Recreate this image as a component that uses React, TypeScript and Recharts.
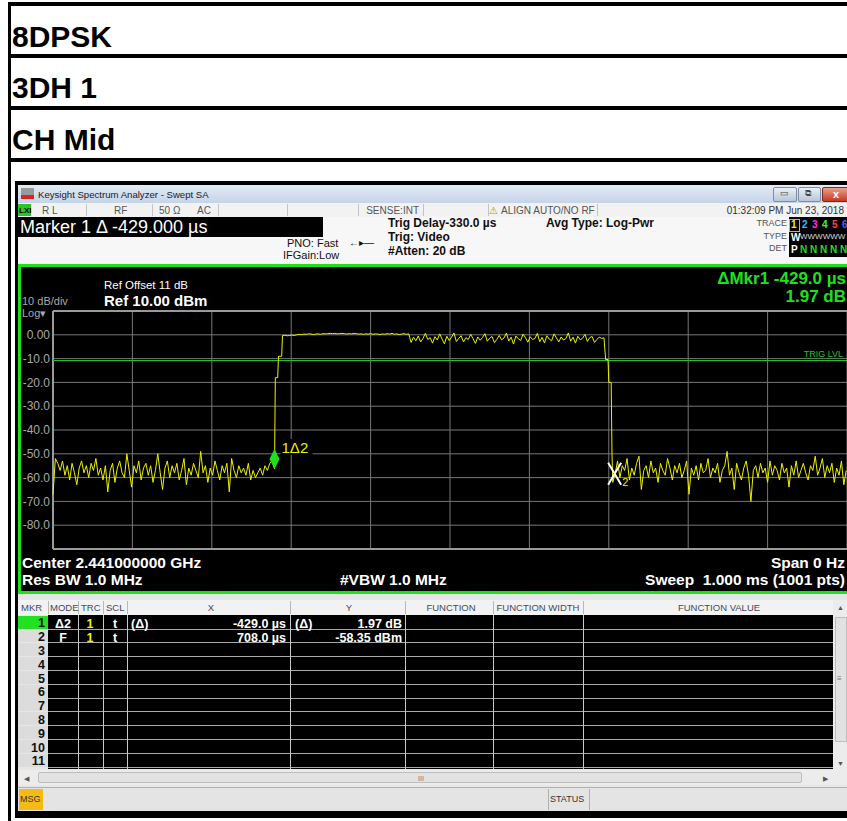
import { LineChart, Line, XAxis, YAxis, CartesianGrid, ReferenceLine, ReferenceDot } from 'recharts'

const SWEEP_STEP = 3 // µs between the trace points picked off the screen

// noise floor before the burst, t = 0..279 µs (last one sits under marker 1)
const noiseBefore = [
  -67, -52, -54, -57, -53, -59, -55, -61, -54, -58,
  -63, -56, -53, -58, -55, -60, -54, -57, -52, -59,
  -56, -61, -55, -66, -57, -54, -62, -56, -53, -58,
  -60, -50, -57, -64, -55, -58, -53, -61, -56, -54,
  -59, -55, -62, -57, -50, -58, -65, -56, -53, -60,
  -55, -58, -54, -61, -57, -52, -63, -56, -59, -54,
  -57, -60, -49, -58, -55, -62, -56, -59, -53, -57,
  -61, -55, -58, -54, -66, -52, -57, -60, -55, -58,
  -56, -59, -54, -61, -57, -60, -58, -56, -59, -55,
  -57, -54, -53, -56.4,
]

// rising edge steps [t, dBm]
const riseEdge = [[280, -18], [283, -18], [284, -9], [288, -9]]

// smooth first part of the burst, t = 289..448 µs
const burstFlat = [
  -0.3, -0.2, -0.4, -0.3, -0.1, -0.3, 0.0, 0.2, 0.1, 0.3,
  0.2, 0.4, 0.3, 0.1, 0.3, 0.4, 0.2, 0.5, 0.4, 0.5,
  0.6, 0.5, 0.6, 0.4, 0.5, 0.6, 0.5, 0.3, 0.5, 0.4,
  0.6, 0.5, 0.3, 0.4, 0.2, 0.4, 0.3, 0.5, 0.2, 0.4,
  0.3, 0.1, 0.4, 0.2, 0.5, 0.3, 0.6, 0.2, 0.4, 0.1,
  0.3, 0.5, 0.2, 0.4,
]

// rippled second part of the burst, t = 451..694 µs
const burstRipple = [
  -3.2, -1.0, -2.5, -0.5, -3.0, -1.5, 0.6, -2.0, -1.2, -3.5,
  -0.8, -2.2, 0.4, -1.8, -3.8, -0.6, -2.4, -1.0, 0.8, -2.8,
  -1.5, -0.4, -3.0, -1.2, -2.0, 0.2, -1.6, -3.6, -0.9, -2.3,
  -1.1, 0.5, -2.7, -1.4, -0.7, -3.3, -1.9, -0.3, -2.1, -1.3,
  0.7, -2.6, -1.0, -3.9, -0.5, -1.7, -2.4, 0.3, -1.2, -3.1,
  -0.8, -2.0, -1.5, 0.6, -2.9, -1.1, -3.4, -0.4, -1.8, -2.5,
  0.4, -1.3, -3.0, -0.9, -2.2, -1.6, 0.8, -2.7, -1.0, -3.5,
  -0.6, -2.1, -1.4, 0.2, -2.8, -1.2, -0.7, -3.2, -1.9, -1.0,
  -1.5, -1.3,
]

// falling edge steps [t, dBm]
const fallEdge = [[696, -10.4], [699, -10.4], [700, -20], [703, -20], [704, -50], [705, -62]]

// noise floor after the burst, t = 708..999 µs (first one is marker 2)
const noiseAfter = [
  -58.35, -53, -60, -55, -57, -52, -61, -56, -59, -54,
  -51, -65, -57, -55, -60, -53, -58, -56, -62, -54,
  -57, -59, -52, -56, -61, -55, -58, -54, -60, -57,
  -53, -67, -56, -59, -55, -61, -54, -58, -57, -52,
  -60, -56, -58, -54, -62, -57, -55, -49, -59, -56,
  -65, -54, -58, -61, -56, -53, -59, -70, -57, -55,
  -60, -54, -58, -56, -62, -53, -59, -55, -57, -61,
  -54, -58, -56, -64, -55, -59, -53, -60, -57, -54,
  -58, -61, -55, -57, -51, -59, -56, -52, -60, -55,
  -58, -54, -62, -56, -59, -53, -63, -57,
]

const xTicks = [0, 100, 200, 300, 400, 500, 600, 700, 800, 900, 1000]
const yTicks = [10, 0, -10, -20, -30, -40, -50, -60, -70, -80, -90]
const trigLevel = -10.8
const marker1 = { t: 279, v: -56.4 }
const marker2 = { t: 708, v: -58.35 }

const markerRows = [
  { mkr: '1', mode: 'Δ2', trc: '1', scl: 't', xRel: '(Δ)', x: '-429.0 µs', yRel: '(Δ)', y: '1.97 dB' },
  { mkr: '2', mode: 'F', trc: '1', scl: 't', xRel: '', x: '708.0 µs', yRel: '', y: '-58.35 dBm' },
]
const rowNumbers = ['1', '2', '3', '4', '5', '6', '7', '8', '9', '10', '11']

const seg = (start: number, vals: number[]) => vals.map((v, i) => ({ t: start + i * SWEEP_STEP, v }))
const pts = (list: number[][]) => list.map(([t, v]) => ({ t, v }))

const trace = [
  ...seg(0, noiseBefore),
  ...pts(riseEdge),
  ...seg(289, burstFlat),
  ...seg(451, burstRipple),
  ...pts(fallEdge),
  ...seg(708, noiseAfter),
]

const SANS = "'Liberation Sans', Arial, sans-serif"

function T({ x, y, size, children, color = '#000', weight = 400, align = 'left', bg }: any) {
  const tx = align === 'right' ? 'translateX(-100%)' : align === 'center' ? 'translateX(-50%)' : undefined
  return (
    <div
      style={{
        position: 'absolute', left: x, top: y - size * 0.847, fontSize: size, lineHeight: `${size}px`,
        color, fontWeight: weight, whiteSpace: 'pre', transform: tx, background: bg,
      }}
    >
      {children}
    </div>
  )
}

function Box({ x, y, w, h, bg, style }: any) {
  return <div style={{ position: 'absolute', left: x, top: y, width: w, height: h, background: bg, ...style }} />
}

const fmtY = (v: number) => (v === 10 || v === -90 ? '' : v === 0 ? '0.00' : v.toFixed(1))

function Diamond({ cx, cy }: any) {
  return (
    <g>
      <polygon points={`${cx},${cy} ${cx - 5},${cy - 10} ${cx},${cy - 20} ${cx + 5},${cy - 10}`} fill="#1ee01e" />
      <rect x={cx + 6} y={cy - 30} width={32} height={16} fill="#000" />
      <text x={cx + 7} y={cy - 16} fill="#f0f000" fontSize={15} fontFamily={SANS}>1Δ2</text>
    </g>
  )
}

function XMark({ cx, cy }: any) {
  return (
    <g>
      <path d={`M${cx - 7},${cy - 11} L${cx + 6},${cy + 11} M${cx + 6},${cy - 11} L${cx - 7},${cy + 11}`} stroke="#fff" strokeWidth={2} />
      <text x={cx + 7} y={cy + 12} fill="#f0f000" fontSize={11} fontFamily={SANS}>2</text>
    </g>
  )
}

const colX = [18, 48, 78, 103, 127, 290, 405, 493, 583, 833]

export default function App() {
  return (
    <div style={{ position: 'absolute', left: 0, top: 0, width: 847, height: 821, overflow: 'hidden', background: '#fff', fontFamily: SANS }}>
      {/* page table lines */}
      <Box x={8} y={2} w={3} h={821} bg="#000" />
      <Box x={8} y={2} w={839} h={4} bg="#000" />
      <Box x={8} y={54} w={839} h={4} bg="#000" />
      <Box x={8} y={106} w={839} h={4} bg="#000" />
      <Box x={8} y={158} w={839} h={4} bg="#000" />
      <T x={12} y={47} size={30} weight={700}>8DPSK</T>
      <T x={12} y={98} size={30} weight={700}>3DH 1</T>
      <T x={12} y={150} size={30} weight={700}>CH Mid</T>

      {/* screenshot frame */}
      <Box x={15} y={181} w={832} h={637} bg="#000" />

      {/* title bar */}
      <Box x={18} y={185} w={829} h={18} bg="linear-gradient(#e2ebf6, #c6d4e8)" />
      <Box x={21} y={188} w={13} h={11} bg="linear-gradient(#9a9a9a 0 60%, #d22 60% 100%)" />
      <T x={38} y={198} size={9.6} color="#1a1a1a">Keysight Spectrum Analyzer - Swept SA</T>
      <Box x={773} y={187} w={22} h={13} bg="linear-gradient(#e8eef6, #b9c7da)" style={{ border: '1px solid #7f8da3', borderRadius: 2 }} />
      <Box x={798} y={187} w={21} h={13} bg="linear-gradient(#e8eef6, #b9c7da)" style={{ border: '1px solid #7f8da3', borderRadius: 2 }} />
      <Box x={822} y={187} w={30} h={13} bg="linear-gradient(#e8a090, #c83a20)" style={{ border: '1px solid #7a2a1a', borderRadius: 2 }} />
      <T x={780} y={197} size={9} color="#444">▭</T>
      <T x={805} y={197} size={9} color="#444">⧉</T>
      <T x={833} y={198} size={11} color="#fff" weight={700}>x</T>

      {/* status row */}
      <Box x={18} y={203} w={829} h={14} bg="#f2f2f2" />
      {[86, 152, 218, 287, 358, 423, 488, 597].map((x) => (
        <Box key={x} x={x} y={204} w={1} h={12} bg="#c4c4c4" />
      ))}
      <Box x={18} y={204} w={13} h={12} bg="#29c629" />
      <T x={19} y={214} size={8} weight={700} color="#000">LXI</T>
      <T x={42} y={214} size={10} color="#555">R L</T>
      <T x={114} y={214} size={10} color="#555">RF</T>
      <T x={159} y={214} size={10} color="#555">50 Ω</T>
      <T x={197} y={214} size={10} color="#555">AC</T>
      <T x={419} y={214} size={10} color="#555" align="right">SENSE:INT</T>
      <T x={489} y={214} size={10} color="#c89a00">⚠</T>
      <T x={501} y={214} size={10} color="#555">ALIGN AUTO/NO RF</T>
      <T x={844} y={214} size={10} color="#333" align="right">01:32:09 PM Jun 23, 2018</T>

      {/* info area */}
      <Box x={18} y={217} w={829} h={47} bg="#f7f7f7" />
      <Box x={18} y={217} w={305} h={20} bg="#000" />
      <T x={20} y={233} size={18} color="#fff">Marker 1 Δ -429.000 µs</T>
      <T x={287} y={247} size={11} color="#111">PNO: Fast</T>
      <T x={283} y={259} size={11} color="#111">IFGain:Low</T>
      <T x={349} y={246} size={10} color="#111">←▸—</T>
      <T x={388} y={227} size={12} weight={700} color="#111">Trig Delay-330.0 µs</T>
      <T x={388} y={241} size={12} weight={700} color="#111">Trig: Video</T>
      <T x={388} y={255} size={12} weight={700} color="#111">#Atten: 20 dB</T>
      <T x={546} y={227} size={12} weight={700} color="#111">Avg Type: Log-Pwr</T>
      <T x={787} y={227} size={9} color="#555" align="right">TRACE</T>
      <T x={787} y={240} size={9} color="#555" align="right">TYPE</T>
      <T x={787} y={252} size={9} color="#555" align="right">DET</T>
      <Box x={789} y={217} w={58} h={40} bg="#000" />
      <Box x={789} y={219} w={9} h={11} bg="#000" style={{ border: '1px solid #c8c800' }} />
      <T x={791} y={228} size={10} weight={700} color="#f0f000">1</T>
      <T x={802} y={228} size={10} weight={700} color="#22c8ff">2</T>
      <T x={812} y={228} size={10} weight={700} color="#ff30ff">3</T>
      <T x={822} y={228} size={10} weight={700} color="#33ff33">4</T>
      <T x={832} y={228} size={10} weight={700} color="#ff4444">5</T>
      <T x={842} y={228} size={10} weight={700} color="#5a5aff">6</T>
      <T x={791} y={241} size={10} weight={700} color="#fff">W</T>
      <T x={800} y={240} size={8} color="#ddd">WWWWWW</T>
      <T x={791} y={253} size={10} weight={700} color="#fff">P</T>
      <T x={800} y={253} size={10} weight={700} color="#22dd22">N N N N N</T>

      {/* graph panel */}
      <Box x={18} y={264} w={835} h={330} bg="#000" style={{ border: '3px solid #1fe01f', boxSizing: 'border-box' }} />
      <div style={{ position: 'absolute', left: 21, top: 268 }}>
        <LineChart width={826} height={323} data={trace} margin={{ top: 43, right: 0, bottom: 42, left: 0 }}>
          <CartesianGrid stroke="#777" strokeWidth={1} />
          <XAxis type="number" dataKey="t" domain={[0, 1000]} ticks={xTicks} hide />
          <YAxis
            type="number"
            domain={[-90, 10]}
            ticks={yTicks}
            interval={0}
            width={32}
            axisLine={false}
            tickLine={false}
            tickSize={3}
            tickMargin={0}
            tickFormatter={fmtY}
            tick={{ fill: '#a8a8a8', fontSize: 12, fontFamily: SANS }}
          />
          <ReferenceLine y={10} stroke="#9a9a9a" strokeWidth={2} />
          <ReferenceLine y={-90} stroke="#9a9a9a" strokeWidth={2} />
          <ReferenceLine x={0} stroke="#9a9a9a" strokeWidth={2} />
          <ReferenceLine y={trigLevel} stroke="#1ec81e" strokeWidth={1} />
          <Line type="linear" dataKey="v" stroke="#f0f000" strokeWidth={1} dot={false} isAnimationActive={false} />
          <ReferenceDot x={marker1.t} y={marker1.v} shape={Diamond} />
          <ReferenceDot x={marker2.t} y={marker2.v} shape={XMark} />
        </LineChart>
      </div>
      <T x={104} y={290} size={11.5} color="#fff">Ref Offset 11 dB</T>
      <T x={104} y={306} size={15} weight={700} color="#fff">Ref 10.00 dBm</T>
      <T x={22} y={305} size={11} color="#a8a8a8">10 dB/div</T>
      <T x={22} y={317} size={11} color="#a8a8a8">Log▾</T>
      <T x={846} y={284} size={17} weight={700} color="#1fe01f" align="right">ΔMkr1 -429.0 µs</T>
      <T x={846} y={302} size={17} weight={700} color="#1fe01f" align="right">1.97 dB</T>
      <T x={843} y={358} size={9} color="#1ec81e" align="right">TRIG LVL</T>
      <T x={22} y={568} size={15.5} weight={700} color="#fff">Center 2.441000000 GHz</T>
      <T x={22} y={585} size={15.5} weight={700} color="#fff">Res BW 1.0 MHz</T>
      <T x={340} y={585} size={15.5} weight={700} color="#fff">#VBW 1.0 MHz</T>
      <T x={845} y={568} size={15.5} weight={700} color="#fff" align="right">Span 0 Hz</T>
      <T x={845} y={585} size={15.5} weight={700} color="#fff" align="right">Sweep  1.000 ms (1001 pts)</T>

      {/* marker table */}
      <Box x={18} y={594} w={829} h={193} bg="#e6e6e6" />
      <Box x={18} y={600} w={815} h={15} bg="#f2f2f2" />
      {colX.slice(1).map((x) => (
        <Box key={'h' + x} x={x} y={601} w={1} h={13} bg="#b8b8b8" />
      ))}
      {[
        ['MKR', 21, 'left'], ['MODE', 50, 'left'], ['TRC', 81, 'left'], ['SCL', 106, 'left'],
        ['X', 211, 'center'], ['Y', 349, 'center'], ['FUNCTION', 451, 'center'],
        ['FUNCTION WIDTH', 538, 'center'], ['FUNCTION VALUE', 719, 'center'],
      ].map(([s, x, a]) => (
        <T key={s as string} x={x} y={611} size={9.5} color="#3e4a60" align={a}>{s}</T>
      ))}
      <Box x={48} y={615} w={785} h={154} bg="#000" />
      {rowNumbers.map((n, i) => {
        const top = 615.5 + i * 13.8
        return (
          <div key={n}>
            <Box x={18} y={top} w={30} h={13} bg={i === 0 ? '#22e022' : '#dcdcdc'} />
            <Box x={48} y={top + 13} w={785} h={1} bg="#a8a8a8" />
            <T x={45} y={top + 12.5} size={12.5} weight={700} color="#111" align="right">{n}</T>
          </div>
        )
      })}
      {colX.slice(2).map((x) => (
        <Box key={'v' + x} x={x} y={615} w={1} h={154} bg="#c8c8c8" />
      ))}
      {markerRows.map((r, i) => {
        const b = 628.3 + i * 13.8
        return (
          <div key={r.mkr}>
            <T x={63} y={b} size={12.5} weight={700} color="#fff" align="center">{r.mode}</T>
            <T x={90} y={b} size={12.5} weight={700} color="#f0f000" align="center">{r.trc}</T>
            <T x={115} y={b} size={12.5} weight={700} color="#fff" align="center">{r.scl}</T>
            <T x={131} y={b} size={12.5} weight={700} color="#fff">{r.xRel}</T>
            <T x={286} y={b} size={12.5} weight={700} color="#fff" align="right">{r.x}</T>
            <T x={295} y={b} size={12.5} weight={700} color="#fff">{r.yRel}</T>
            <T x={402} y={b} size={12.5} weight={700} color="#fff" align="right">{r.y}</T>
          </div>
        )
      })}
      {/* scrollbars */}
      <Box x={833} y={600} w={14} h={170} bg="#ececec" />
      <Box x={835} y={617} w={12} h={125} bg="#e2e2e2" style={{ border: '1px solid #bdbdbd', boxSizing: 'border-box' }} />
      <T x={837} y={610} size={7} color="#555">▲</T>
      <T x={837} y={682} size={8} color="#777">≡</T>
      <T x={837} y={766} size={7} color="#555">▼</T>
      <Box x={18} y={770} w={829} h={15} bg="#ececec" />
      <Box x={38} y={772} w={764} h={11} bg="#e2e2e2" style={{ border: '1px solid #bdbdbd', borderRadius: 2, boxSizing: 'border-box' }} />
      <T x={24} y={781} size={7} color="#555">◀</T>
      <T x={418} y={781} size={7} color="#777">III</T>
      <T x={823} y={781} size={7} color="#555">▶</T>

      {/* bottom status */}
      <Box x={18} y={787} w={829} h={24} bg="#e4e4e4" style={{ borderTop: '1px solid #b0b0b0', boxSizing: 'border-box' }} />
      <Box x={19} y={789} w={24} h={21} bg="#f6bb12" />
      <T x={20} y={803} size={9} color="#333">MSG</T>
      <Box x={548} y={789} w={1} h={21} bg="#b0b0b0" />
      <Box x={589} y={789} w={1} h={21} bg="#b0b0b0" />
      <T x={550} y={803} size={9} color="#333">STATUS</T>
    </div>
  )
}
